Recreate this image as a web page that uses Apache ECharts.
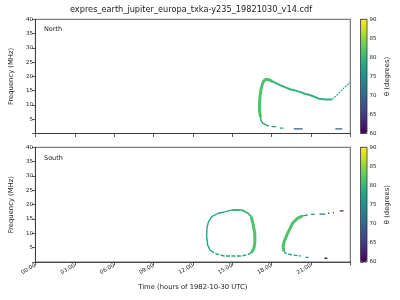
<!DOCTYPE html>
<html><head><meta charset="utf-8">
<script src="https://cdn.jsdelivr.net/npm/echarts@6/dist/echarts.min.js"></script>
<style>html,body{margin:0;padding:0;background:#fff}#c{width:400px;height:300px}</style>
</head><body><div id="c"></div>
<script>
// ---- data ----
const titleText = 'expres_earth_jupiter_europa_txka-y235_19821030_v14.cdf';
const xTickLabels = ['00:00','03:00','06:00','09:00','12:00','15:00','18:00','21:00'];
const thetaRange = [60, 90];
const viridisStops = ['#440154','#482475','#414487','#355f8d','#2a788e','#21918c','#22a884','#44bf70','#7ad151','#bddf26','#fde725'];
// points: [hour, frequency MHz, theta deg]
const northThick = [[17.15,5.8,81.5],[17.08,8.0,81.5],[17.08,10.5,81.5],[17.12,13.0,81.5],[17.2,15.5,81.5],[17.3,17.3,81.5],[17.42,18.5,81.5],[17.58,19.0,81.5],[17.8,18.8,81.5],[18.05,18.3,81.5]];
const northMid = [[18.05,18.3,79.5],[18.5,17.3,79.5],[18.71,16.8,79.5],[18.96,16.35,79.5],[19.46,15.4,79.5],[19.71,15.2,79.5],[20.22,14.5,79.5],[20.47,14.0,79.5],[20.97,13.4,79.5],[21.3,12.8,79.5],[21.6,12.2,79.5],[22.1,11.95,79.5],[22.6,11.95,79.5]];
const northRise = [[22.6,11.95,76.5],[22.98,13.45,76.5],[23.48,15.8,76.5],[23.99,17.9,76.5]];
const northLow = [[17.15,5.8,78],[17.2,4.5,78],[17.33,3.6,78],[17.58,3.0,78],[17.8,2.6,78]];
const northDashes = [
  [[18.0,2.4,77],[18.35,2.4,77]],
  [[18.64,1.9,76],[18.9,1.9,76]],
  [[19.69,1.6,69],[20.37,1.6,69]],
  [[22.86,1.6,69],[23.38,1.6,69]]
];
const southLeft = [[13.6,3.2,77.5],[13.31,4.2,77.5],[13.13,5.9,77.5],[13.05,9.0,77.5],[13.08,12.0,77.5],[13.19,14.0,77.5],[13.44,15.8,77.5],[13.94,17.0,77.5],[14.44,17.5,77.5],[14.94,18.1,77.5]];
const southTop = [[14.94,18.1,79.5],[15.4,18.2,79.5],[15.8,18.0,79.5],[16.2,17.0,79.5],[16.45,15.8,79.5]];
const southRight = [[16.45,15.8,81.5],[16.6,13.0,81.5],[16.72,10.0,81.5],[16.73,7.0,81.5],[16.64,4.5,81.5],[16.45,3.3,81.5]];
const southBottom = [[16.45,3.3,77.5],[16.2,2.6,77.5],[15.7,2.1,77.5],[14.4,2.1,77.5],[13.81,2.8,77.5],[13.6,3.2,77.5]];
const south2Thick = [[18.93,3.8,81.5],[18.88,5.5,81.5],[18.95,7.0,81.5],[19.22,10.0,81.5],[19.59,13.5,81.5],[19.97,15.2,81.5],[20.35,16.1,81.5]];
const south2Up = [[20.35,16.1,78],[20.75,16.4,78]];
const south2Low = [[18.93,3.8,78],[19.1,3.0,78],[19.4,2.6,78],[19.71,2.4,78],[20.22,2.1,78]];
const southDashes = [
  [[21.0,16.6,77],[21.3,16.6,77]],
  [[21.65,16.7,72],[22.1,16.7,72]],
  [[22.3,17.0,67],[22.4,17.0,67]],
  [[22.68,17.2,65],[22.76,17.2,65]],
  [[23.2,17.8,62],[23.48,17.8,62]],
  [[20.6,1.6,72],[20.82,1.6,72]],
  [[22.03,1.3,62],[22.25,1.3,62]]
];

// ---- helpers ----
function hex2rgb(h){return [parseInt(h.slice(1,3),16),parseInt(h.slice(3,5),16),parseInt(h.slice(5,7),16)];}
function viridis(theta){
  let t=(theta-thetaRange[0])/(thetaRange[1]-thetaRange[0]);
  t=Math.max(0,Math.min(1,t));
  const n=viridisStops.length-1, i=Math.min(n-1,Math.floor(t*n)), f=t*n-i;
  const a=hex2rgb(viridisStops[i]), b=hex2rgb(viridisStops[i+1]);
  return 'rgb('+a.map((v,k)=>Math.round(v+(b[k]-v)*f)).join(',')+')';
}
const FONT='DejaVu Sans', TXT='#222', AX='#333';
function seg(data, panel, width, type){
  return {type:'line', xAxisIndex:panel, yAxisIndex:panel, data:data.map(p=>[p[0],p[1]]),
    symbol:'none', silent:true, animation:false, z:3,
    lineStyle:{color:viridis(data[0][2]), width:width, type:type||'solid', cap:'butt', join:'round'}};
}
const series = [
  seg(northLow,0,1.4), seg(northThick,0,3), seg(northMid,0,2), seg(northRise,0,1.1,[2,1]),
  ...northDashes.map(d=>seg(d,0,1.3)),
  seg(southLeft,1,1.4), seg(southBottom,1,1.4,[4,1.5]), seg(southTop,1,1.8), seg(southRight,1,3),
  seg(south2Low,1,1.4,[4,1.5]), seg(south2Thick,1,3), seg(south2Up,1,1.4),
  ...southDashes.map(d=>seg(d,1,1.3))
];
series.push({type:'scatter', xAxisIndex:2, yAxisIndex:2, data:[]});
series.push({type:'scatter', xAxisIndex:3, yAxisIndex:3, data:[]});
const dummy0 = series.length-2, dummy1 = series.length-1;

const grids = [
  {left:31.7, top:19.3, width:318.6, height:114.2},
  {left:31.7, top:147.3, width:318.6, height:114.7},
  {left:360.5, top:19.3, width:6.5, height:114.2},
  {left:360.5, top:147.3, width:6.5, height:114.7}
];
function mainX(i, labels){
  return {type:'value', gridIndex:i, min:0, max:24, interval:3,
    axisLine:{show:true, lineStyle:{color:AX, width:0.8}},
    axisTick:{show:true, length:3.5, lineStyle:{color:AX, width:0.8}},
    splitLine:{show:false},
    axisLabel:{show:labels, rotate:30, fontSize:5.5, color:TXT, fontFamily:FONT, margin:3,
      formatter:v=>xTickLabels[Math.round(v/3)]||''},
    name: labels ? 'Time (hours of 1982-10-30 UTC)' : '', nameLocation:'middle', nameGap:22,
    nameTextStyle:{fontSize:6.8, color:TXT, fontFamily:FONT}};
}
function mainY(i){
  return {type:'value', gridIndex:i, min:0, max:40, interval:5,
    axisLine:{show:true, lineStyle:{color:AX, width:0.8}},
    axisTick:{show:true, length:3.5, lineStyle:{color:AX, width:0.8}},
    splitLine:{show:false},
    axisLabel:{fontSize:5.5, color:TXT, fontFamily:FONT, margin:2.5, formatter:v=>v===0?'':String(v)},
    name:'Frequency (MHz)', nameLocation:'middle', nameGap:15,
    nameTextStyle:{fontSize:6.8, color:TXT, fontFamily:FONT}};
}
function cbX(i){return {type:'value', gridIndex:i, min:0, max:1, show:false};}
function cbY(i){
  return {type:'value', gridIndex:i, position:'right', min:thetaRange[0], max:thetaRange[1], interval:5,
    axisLine:{show:false}, splitLine:{show:false},
    axisTick:{show:true, length:2.5, lineStyle:{color:AX, width:0.8}},
    axisLabel:{fontSize:5.5, color:TXT, fontFamily:FONT, margin:2.5},
    name:'θ (degrees)', nameLocation:'middle', nameRotate:90, nameGap:17,
    nameTextStyle:{fontSize:6.8, color:TXT, fontFamily:FONT}};
}
function vm(idx, g){
  return {type:'continuous', min:thetaRange[0], max:thetaRange[1], seriesIndex:[idx],
    orient:'vertical', left:g.left, top:g.top, itemWidth:g.width, itemHeight:g.height,
    padding:0, calculable:false, text:null, inRange:{color:viridisStops}};
}
const chart = echarts.init(document.getElementById('c'), null, {renderer:'canvas'});
chart.setOption({
  animation:false,
  backgroundColor:'#fff',
  title:[
    {text:titleText, left:191, top:6, padding:0, textAlign:'center', textStyle:{fontSize:8.2, fontWeight:'normal', color:TXT, fontFamily:FONT}},
    {text:'North', left:44, top:25.6, padding:0, textStyle:{fontSize:6.5, fontWeight:'normal', color:TXT, fontFamily:FONT}},
    {text:'South', left:44, top:154.6, padding:0, textStyle:{fontSize:6.5, fontWeight:'normal', color:TXT, fontFamily:FONT}}
  ],
  grid: grids.map((g,i)=>Object.assign({show:true, borderColor:AX, borderWidth:0.8, backgroundColor:'transparent', z: i>=2?10:2}, g)),
  xAxis:[mainX(0,false), mainX(1,true), cbX(2), cbX(3)],
  yAxis:[mainY(0), mainY(1), cbY(2), cbY(3)],
  visualMap:[vm(dummy0, grids[2]), vm(dummy1, grids[3])],
  series: series
});
</script></body></html>
